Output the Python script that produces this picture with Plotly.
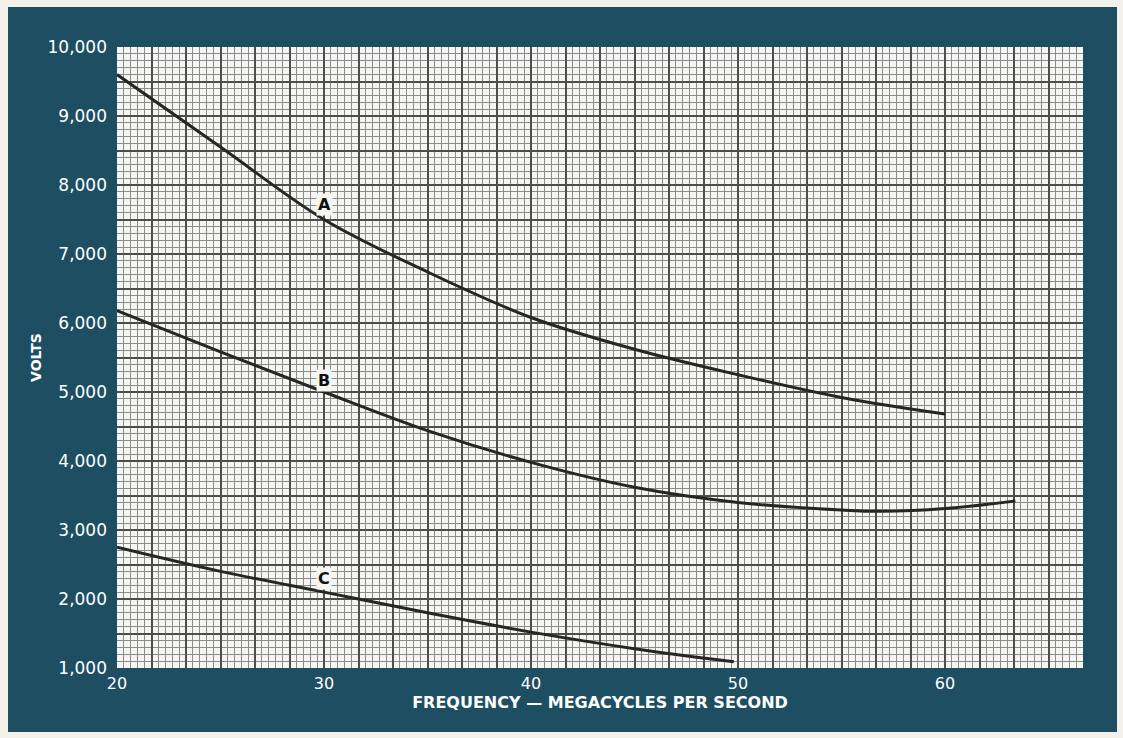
import numpy as np
import plotly.graph_objects as go

# Breakdown voltage curves versus frequency
freq_a = [20, 25, 30, 35, 40, 45, 50, 55, 60]
volts_a = [9600, 8550, 7500, 6740, 6080, 5620, 5250, 4920, 4680]

freq_b = [20, 25, 30, 35, 40, 45, 50, 55, 57, 60, 63.4]
volts_b = [6180, 5580, 5000, 4440, 3980, 3620, 3400, 3290, 3270, 3310, 3420]

freq_c = [20, 25, 30, 35, 40, 45, 49.8]
volts_c = [2750, 2400, 2100, 1800, 1520, 1280, 1090]

curve_labels = ["A", "B", "C"]
label_freq = [30, 30, 30]
label_volts = [7720, 5170, 2300]

x_label_vals = [20, 30, 40, 50, 60]
y_label_vals = [1000, 2000, 3000, 4000, 5000, 6000, 7000, 8000, 9000, 10000]

X_MAX = 20 + 28 * (10 / 6)
FRAME = "#1d4e62"
PAPER = "#f5f5f2"
INK = "#262626"
FONT = "DejaVu Sans"

# graph-paper rulings: heavy every 1/6 decade of frequency and every 500 V
x_grid = 20 + np.arange(0, 29) * (10 / 6)
x_text = []
for v in x_grid:
    hit = [str(t) for t in x_label_vals if abs(v - t) < 1e-6]
    x_text.append(hit[0] if hit else "")
y_grid = np.arange(1000, 10001, 500)
y_text = [f"{int(v):,}" if int(v) in y_label_vals else "" for v in y_grid]

fig = go.Figure()
for xs, ys in [(freq_a, volts_a), (freq_b, volts_b), (freq_c, volts_c)]:
    fig.add_trace(go.Scatter(
        x=xs, y=ys, mode="lines",
        line=dict(color=INK, width=3, shape="spline", smoothing=1.0),
        hoverinfo="skip", showlegend=False,
    ))

for name, fx, vy in zip(curve_labels, label_freq, label_volts):
    fig.add_annotation(
        x=fx, y=vy, text=f"<b>{name}</b>", showarrow=False,
        font=dict(family=FONT, size=16, color="#111111"),
        bgcolor=PAPER, borderpad=1,
    )

fig.update_layout(
    width=1123, height=738,
    margin=dict(l=117, r=40, t=47, b=70),
    paper_bgcolor="#f3f2ea",
    plot_bgcolor=PAPER,
    shapes=[
        # dark mounting frame
        dict(type="rect", xref="paper", yref="paper", layer="below",
             x0=-109 / 966, x1=1 + 34 / 966, y0=-64 / 621, y1=1 + 40 / 621,
             fillcolor=FRAME, line=dict(width=0)),
        # the graph sheet itself
        dict(type="rect", xref="x domain", yref="y domain", layer="below",
             x0=0, x1=1, y0=0, y1=1,
             fillcolor=PAPER, line=dict(width=0)),
    ],
    xaxis=dict(
        range=[20, X_MAX], tickmode="array", tickvals=x_grid, ticktext=x_text,
        showgrid=True, gridcolor="#4e4e4e", gridwidth=1.8,
        minor=dict(tickmode="linear", tick0=20, dtick=1 / 3, showgrid=True,
                   gridcolor="#8c8c8c", gridwidth=1.3),
        ticks="", showline=False, zeroline=False, ticklabelstandoff=4,
        tickfont=dict(family=FONT, size=16, color="white"),
        title=dict(text="<b>FREQUENCY — MEGACYCLES PER SECOND</b>",
                   font=dict(family=FONT, size=16, color="white"), standoff=0),
    ),
    yaxis=dict(
        range=[1000, 10000], tickmode="array", tickvals=y_grid, ticktext=y_text,
        showgrid=True, gridcolor="#4e4e4e", gridwidth=1.8,
        minor=dict(tickmode="linear", tick0=1000, dtick=100, showgrid=True,
                   gridcolor="#8c8c8c", gridwidth=1.3),
        ticks="", showline=False, zeroline=False, ticklabelstandoff=9,
        tickfont=dict(family=FONT, size=17, color="white"),
        title=dict(text="<b>VOLTS</b>", font=dict(family=FONT, size=14, color="white"),
                   standoff=2),
    ),
)

fig.write_html("out.html")
